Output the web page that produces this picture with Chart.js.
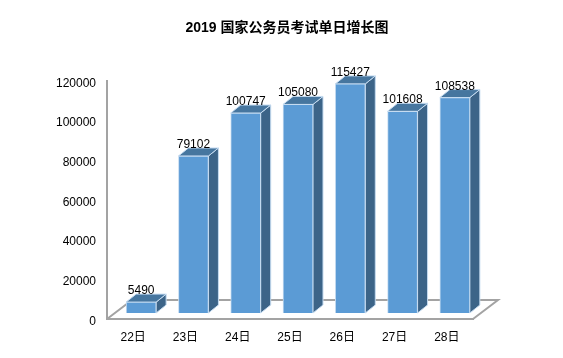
<!DOCTYPE html>
<html>
<head>
<meta charset="utf-8">
<style>
    html, body { margin: 0; padding: 0; background: #ffffff; }
    canvas { display: block; }
</style>
<script src="https://cdn.jsdelivr.net/npm/chart.js@4/dist/chart.umd.min.js"></script>
</head>
<body>
<canvas id="chart" width="563" height="358"></canvas>
<script>
// Data
const titleText = '2019 国家公务员考试单日增长图';
const days = ['22日', '23日', '24日', '25日', '26日', '27日', '28日'];
const dailyGrowth = [5490, 79102, 100747, 105080, 115427, 101608, 108538];

const FONT = '"Liberation Sans", "Noto Sans CJK SC", sans-serif';
const AXIS_COLOR = '#a3a3a3';
const FRONT_COLOR = '#5b9bd5';
const EDGE_COLOR = '#c6dcf1';
const TOP_COLOR = '#46769f';
const SIDE_COLOR = '#3c6488';

// Fake 3D: bars sit inside the floor, and have a depth going up and to the right
const BAR_SHIFT = { x: 8, y: -6 };
const BAR_DEPTH = { x: 10, y: -8 };
const FLOOR_DEPTH = { x: 25, y: -19 };

function polygon(ctx, points, fill) {
    ctx.beginPath();
    points.forEach(([x, y], i) => (i ? ctx.lineTo(x, y) : ctx.moveTo(x, y)));
    ctx.closePath();
    ctx.fillStyle = fill;
    ctx.fill();
    ctx.strokeStyle = EDGE_COLOR;
    ctx.lineWidth = 1;
    ctx.stroke();
}

const bars3d = {
    id: 'bars3d',
    beforeDatasetsDraw(chart) {
        const { ctx, chartArea: { left, right, bottom } } = chart;

        // Floor, behind the bars
        ctx.save();
        ctx.strokeStyle = AXIS_COLOR;
        ctx.lineWidth = 2;
        ctx.beginPath();
        ctx.moveTo(left, bottom);
        ctx.lineTo(left + FLOOR_DEPTH.x, bottom + FLOOR_DEPTH.y);
        ctx.lineTo(right + FLOOR_DEPTH.x, bottom + FLOOR_DEPTH.y);
        ctx.lineTo(right, bottom);
        ctx.stroke();
        ctx.restore();

        // Side and top faces go first, then the library draws the front on top
        ctx.save();
        ctx.translate(BAR_SHIFT.x, BAR_SHIFT.y);
        chart.getDatasetMeta(0).data.forEach(bar => {
            const { x, y, base, width } = bar.getProps(['x', 'y', 'base', 'width']);
            const l = x - width / 2;
            const r = x + width / 2;
            polygon(ctx, [[r, y], [r + BAR_DEPTH.x, y + BAR_DEPTH.y],
                [r + BAR_DEPTH.x, base + BAR_DEPTH.y], [r, base]], SIDE_COLOR);
            polygon(ctx, [[l, y], [l + BAR_DEPTH.x, y + BAR_DEPTH.y],
                [r + BAR_DEPTH.x, y + BAR_DEPTH.y], [r, y]], TOP_COLOR);
        });
    },
    afterDatasetsDraw(chart) {
        const { ctx } = chart;

        // Value labels, still in the shifted context
        ctx.fillStyle = '#000000';
        ctx.font = '12px ' + FONT;
        ctx.textAlign = 'center';
        ctx.textBaseline = 'alphabetic';
        chart.getDatasetMeta(0).data.forEach((bar, i) => {
            ctx.fillText(String(dailyGrowth[i]), bar.x, bar.y - 8);
        });
        ctx.restore();
    }
};

new Chart(document.getElementById('chart'), {
    type: 'bar',
    data: {
        labels: days,
        datasets: [{
            data: dailyGrowth,
            backgroundColor: FRONT_COLOR,
            borderColor: EDGE_COLOR,
            borderWidth: 1,
            barThickness: 30,
            clip: false
        }]
    },
    options: {
        responsive: false,
        animation: false,
        // left padding keeps the title centred where the original has it
        layout: { padding: { left: 11, right: 0, top: 0, bottom: 0 } },
        plugins: {
            legend: { display: false },
            tooltip: { enabled: false },
            title: {
                display: true,
                text: titleText,
                color: '#000000',
                font: { family: FONT, size: 14, weight: 'bold' },
                padding: { top: 20, bottom: 44 }
            }
        },
        scales: {
            x: {
                grid: { display: false },
                border: { color: AXIS_COLOR, width: 2 },
                ticks: {
                    color: '#000000',
                    font: { family: FONT, size: 12 },
                    padding: 3,
                    maxRotation: 0
                },
                afterFit: scale => { scale.height = 39; }
            },
            y: {
                min: 0,
                max: 120000,
                grid: { display: false },
                border: { color: AXIS_COLOR, width: 2 },
                ticks: {
                    stepSize: 20000,
                    color: '#000000',
                    // Empty first line + small line height nudges labels down a bit
                    font: { family: FONT, size: 12, lineHeight: '5px' },
                    padding: 3,
                    callback: value => ['', String(value)]
                },
                afterFit: scale => { scale.width = 96; }
            },
            // Empty axis, only reserves the blank margin on the right
            margin: {
                position: 'right',
                grid: { display: false },
                border: { display: false },
                ticks: { display: false },
                afterFit: scale => { scale.width = 90; }
            }
        }
    },
    plugins: [bars3d]
});
</script>
</body>
</html>
